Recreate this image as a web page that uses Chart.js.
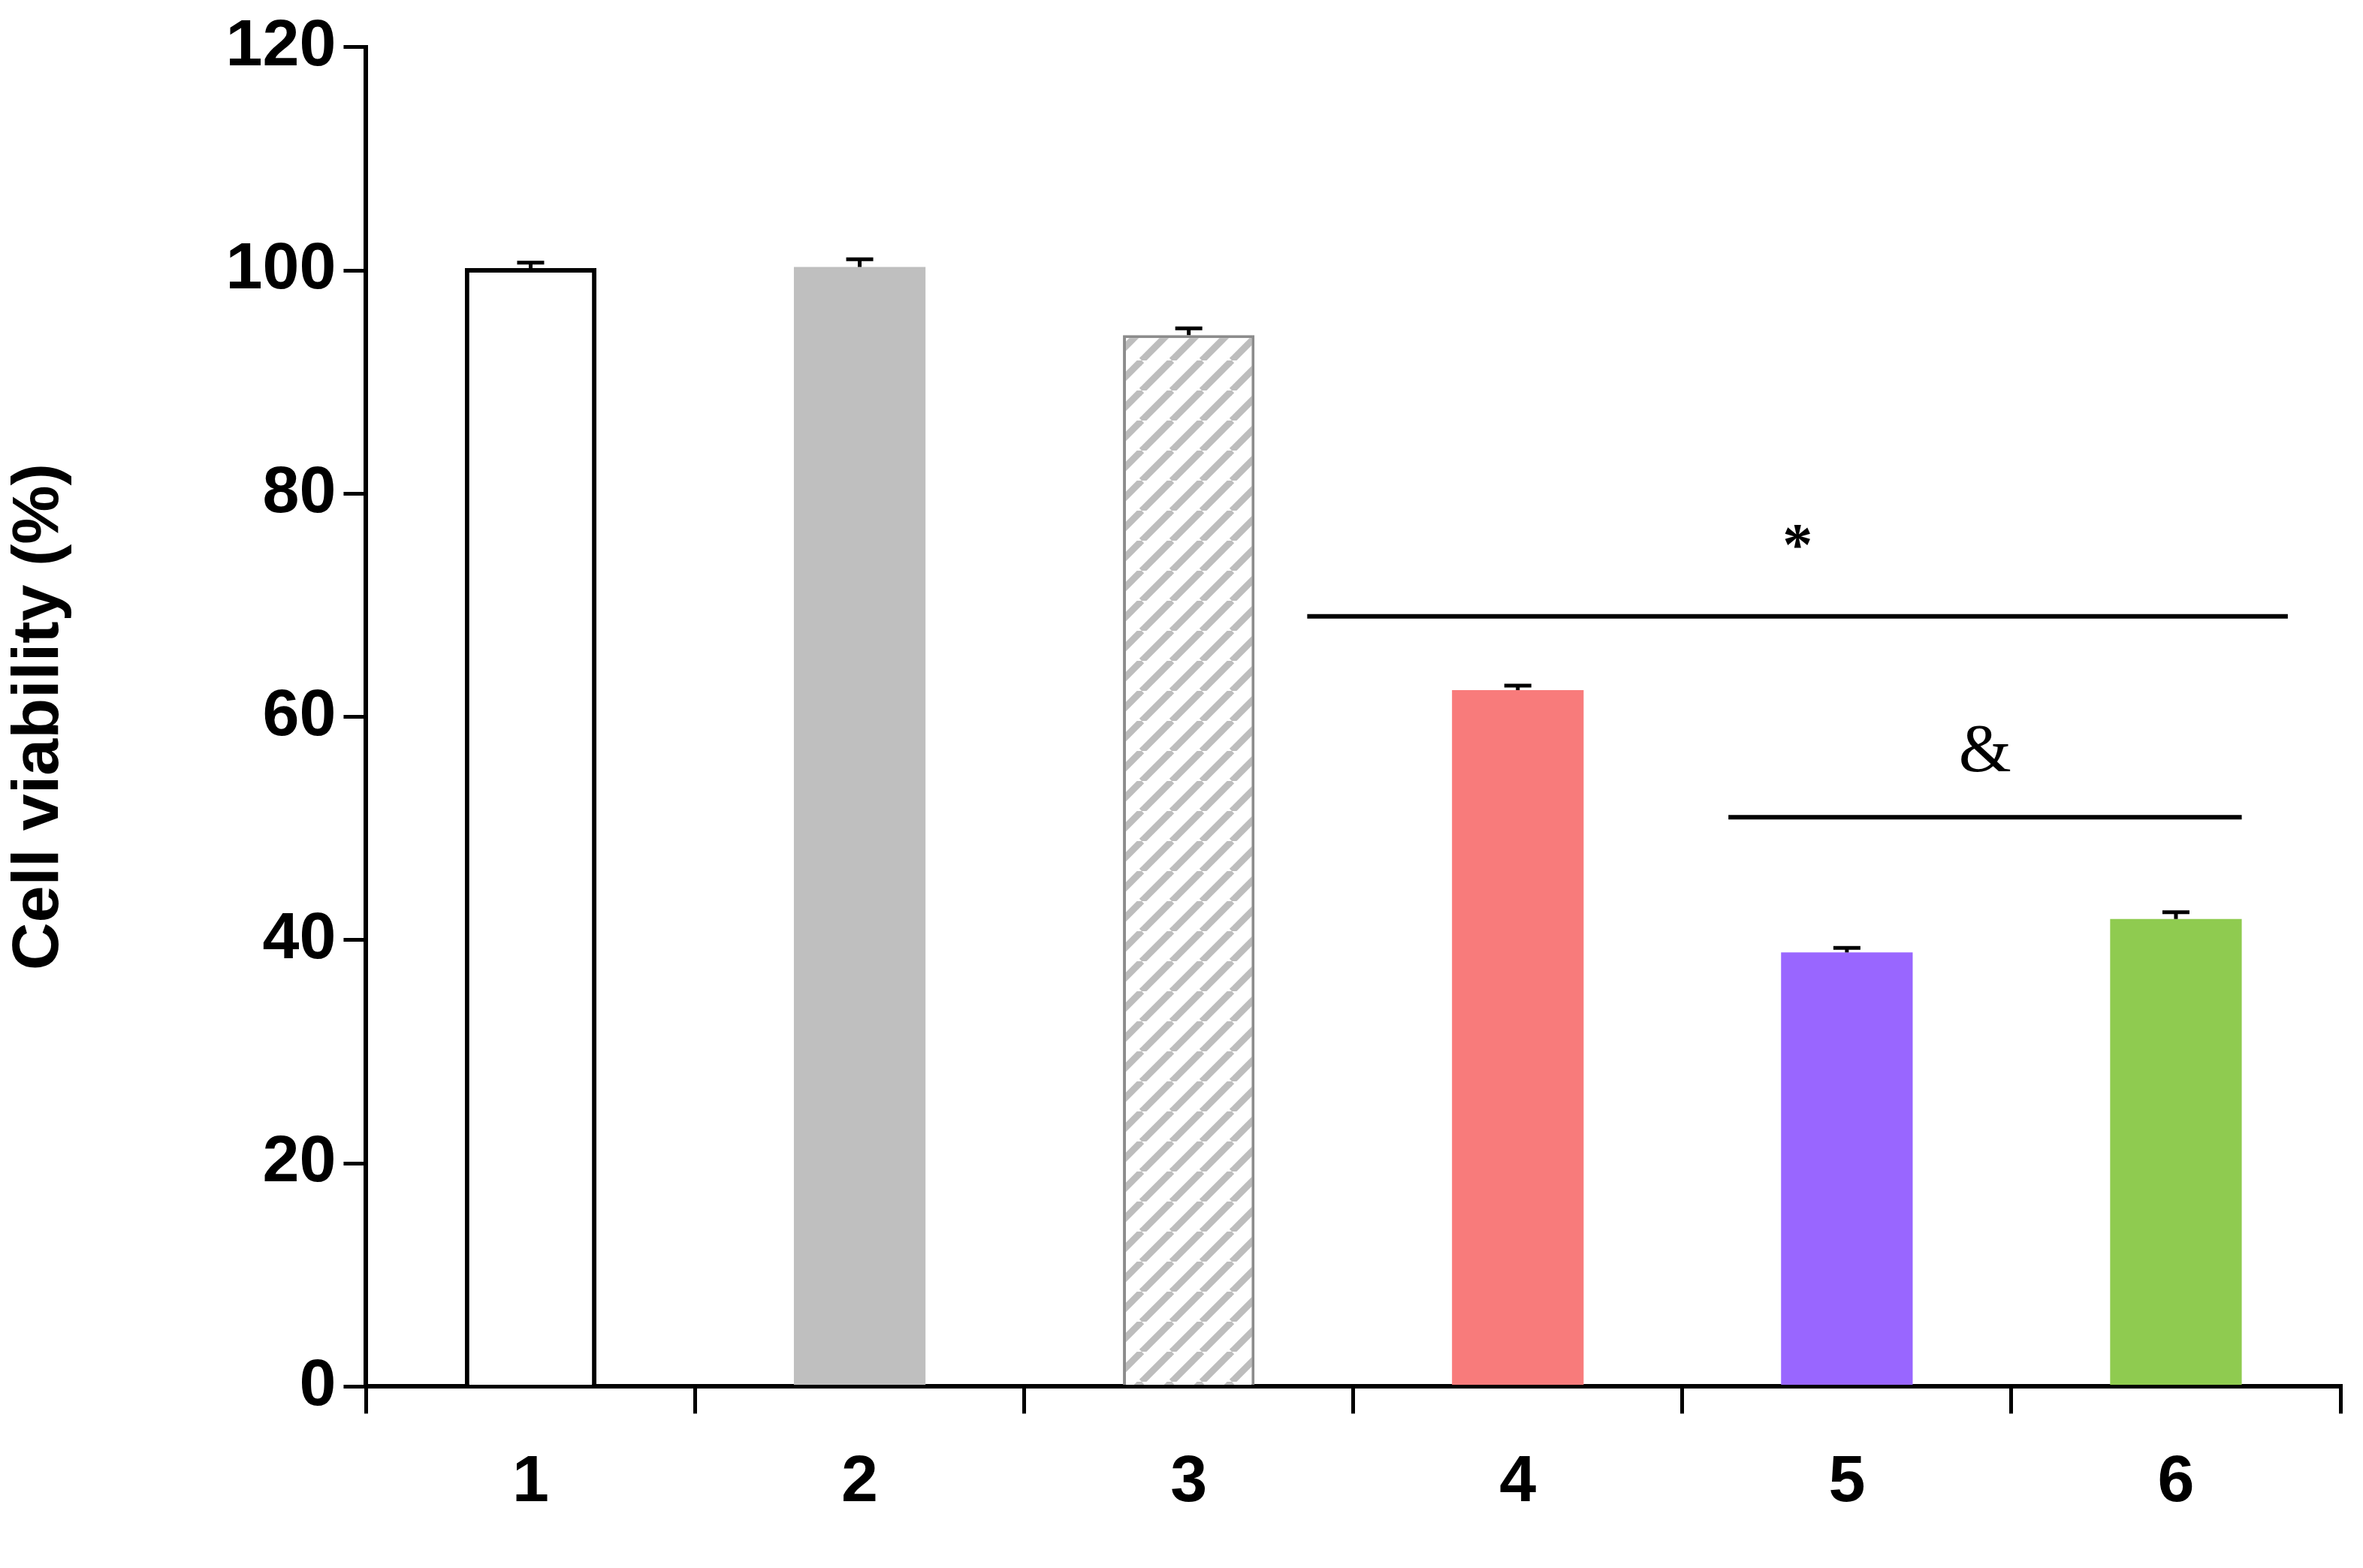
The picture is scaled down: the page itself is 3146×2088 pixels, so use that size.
<!DOCTYPE html>
<html>
<head>
<meta charset="utf-8">
<script src="https://cdn.jsdelivr.net/npm/chart.js@4"></script>
<style>
  html, body { margin: 0; background: #fff; }
  #wrap { width: 3146px; height: 2088px; }
</style>
</head>
<body>
<div id="wrap"><canvas id="myChart"></canvas></div>
<script>
  const labels = ['1', '2', '3', '4', '5', '6'];
  const viability = [100.2, 100.3, 94.2, 62.4, 38.9, 41.9];
  const errors = [0.5, 0.7, 0.6, 0.4, 0.4, 0.6];
  const yTicks = [0, 20, 40, 60, 80, 100, 120];
  // significance lines: [fromIndex, toIndex, yValue, label]
  const sigLines = [
    [2.36, 5.34, 69, '*'],
    [3.64, 5.2, 51, '&']
  ];

  function hatch() {
    const c = document.createElement('canvas');
    c.width = 40; c.height = 40;
    const g = c.getContext('2d');
    g.fillStyle = '#fff'; g.fillRect(0, 0, 40, 40);
    g.strokeStyle = '#bdbdbd'; g.lineWidth = 9;
    for (let k = -1; k <= 1; k++) {
      g.beginPath(); g.moveTo(k * 40, 40); g.lineTo(k * 40 + 40, 0); g.stroke();
    }
    return g.createPattern(c, 'repeat');
  }

  const ctx = document.getElementById('myChart').getContext('2d');

  const extras = {
    id: 'extras',
    afterDatasetsDraw(chart) {
      const { ctx, scales: { x, y } } = chart;
      const meta = chart.getDatasetMeta(0);
      ctx.save();
      ctx.strokeStyle = '#000';
      ctx.lineWidth = 5;
      meta.data.forEach((bar, i) => {
        const top = y.getPixelForValue(viability[i] + errors[i]);
        ctx.beginPath();
        ctx.moveTo(bar.x, bar.y); ctx.lineTo(bar.x, top);
        ctx.moveTo(bar.x - 18, top); ctx.lineTo(bar.x + 18, top);
        ctx.stroke();
      });
      ctx.lineWidth = 6;
      ctx.fillStyle = '#000';
      ctx.textAlign = 'center';
      ctx.textBaseline = 'bottom';
      sigLines.forEach(([a, b, v, t]) => {
        const x0 = x.getPixelForValue(0), step = x.getPixelForValue(1) - x0;
        const py = y.getPixelForValue(v);
        const xa = x0 + a * step, xb = x0 + b * step;
        ctx.beginPath(); ctx.moveTo(xa, py); ctx.lineTo(xb, py); ctx.stroke();
        ctx.font = t === '*' ? 'bold 80px "Liberation Serif"' : '90px "Liberation Serif"';
        ctx.fillText(t, (xa + xb) / 2, t === '*' ? py - 50 : py - 40);
      });
      ctx.restore();
    }
  };

  new Chart(ctx, {
    type: 'bar',
    data: {
      labels: labels,
      datasets: [{
        data: viability,
        backgroundColor: ['#ffffff', '#bfbfbf', hatch(), '#f87b7b', '#9966ff', '#8fcb50'],
        borderColor: ['#000000', '#bfbfbf', '#8c8c8c', '#f87b7b', '#9966ff', '#8fcb50'],
        borderWidth: [6, 0, 4, 0, 0, 0],
        borderSkipped: 'bottom',
        barPercentage: 0.4,
        categoryPercentage: 1
      }]
    },
    options: {
      responsive: true,
      maintainAspectRatio: false,
      animation: false,
      devicePixelRatio: 1,
      layout: { padding: { top: 50, right: 30, left: 0, bottom: 20 } },
      plugins: { legend: { display: false }, tooltip: { enabled: false } },
      scales: {
        x: {
          grid: { drawOnChartArea: false, color: '#000', lineWidth: 5, tickLength: 36 },
          border: { color: '#000', width: 6 },
          ticks: { color: '#000', font: { family: 'Liberation Sans', weight: 'bold', size: 88 }, padding: 40 }
        },
        y: {
          min: 0, max: 120,
          afterBuildTicks: axis => { axis.ticks = yTicks.map(v => ({ value: v })); },
          grid: { drawOnChartArea: false, color: '#000', lineWidth: 5, tickLength: 30 },
          border: { color: '#000', width: 6 },
          ticks: { color: '#000', font: { family: 'Liberation Sans', weight: 'bold', size: 88 }, padding: 10 },
          title: { display: true, text: 'Cell viability (%)', color: '#000', font: { family: 'Liberation Sans', weight: 'bold', size: 88 }, padding: { top: 0, bottom: 185 } }
        }
      }
    },
    plugins: [extras]
  });
</script>
</body>
</html>
